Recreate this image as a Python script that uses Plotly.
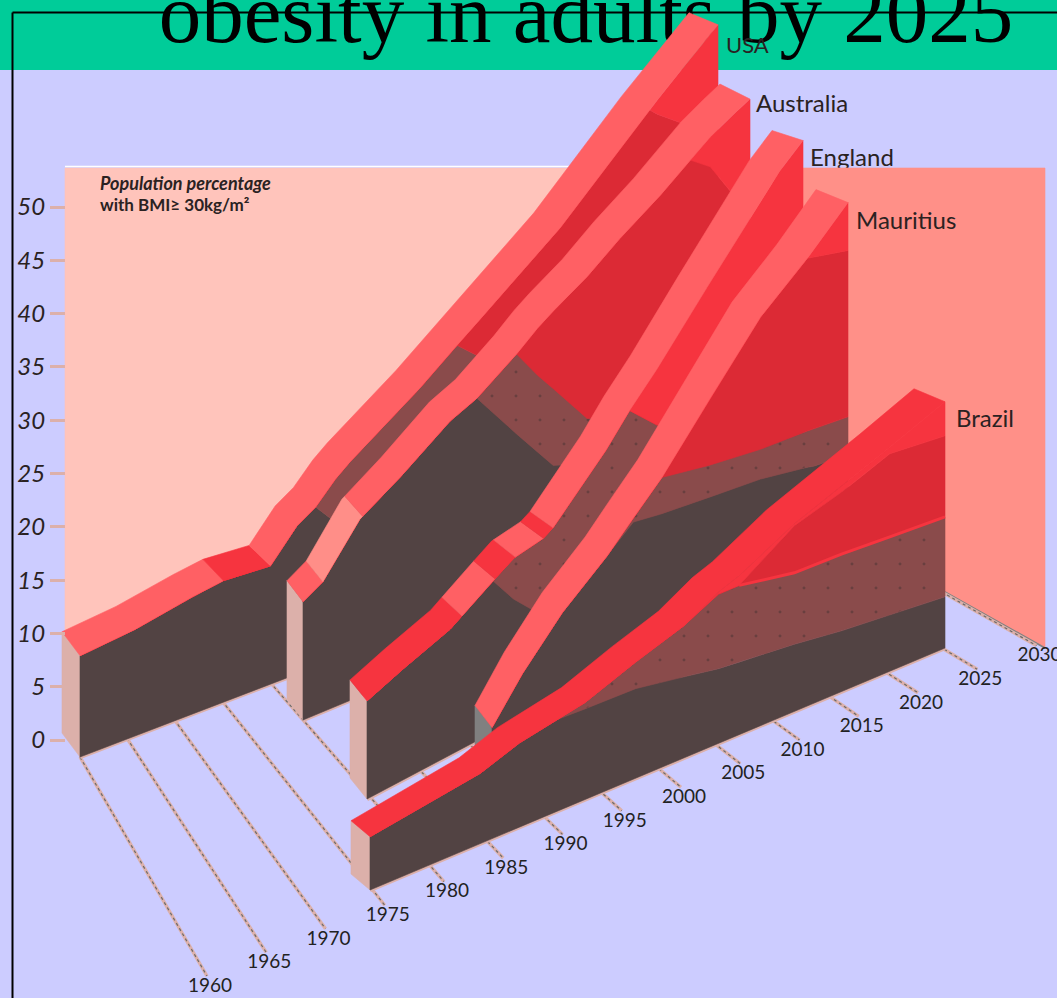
import numpy as np
import plotly.graph_objects as go

# ---------- data (percent of population, cumulative band tops) ----------
USA_YEARS  = [1960, 1965.6, 1971.5, 1974.6, 1979.4, 1982.1, 1984, 1986, 1987.5, 1994.6, 1998.4, 2000.6, 2008.9, 2018, 2018.8, 2021.4, 2025]
USA_DARK   = [9.5, 10.0, 11.0, 11.4, 11.1, 13.9, 15.0, 12.9, 12.5, 11.5, 11.2, 11.0, 10.5, 9.8, 9.7, 9.4, 9.0]
USA_MID    = [9.5, 10.0, 11.0, 11.4, 11.1, 13.9, 15.0, 16.9, 18.0, 22.4, 25.1, 23.3, 21.0, 19.0, 19.0, 18.0, 17.0]
USA_DEEP   = [9.5, 10.0, 11.0, 11.4, 11.1, 13.9, 15.0, 16.9, 18.0, 22.4, 25.1, 26.6, 32.4, 40.3, 39.6, 37.8, 34.0]
USA_TOTAL  = [9.5, 10.0, 11.0, 11.4, 11.1, 13.9, 15.0, 16.9, 18.0, 22.4, 25.1, 26.6, 32.4, 40.3, 40.9, 43.0, 45.8]
USA_BREAKS = [1960, 1974.6, 1979.4, 2025]

AUS_YEARS  = [1980, 1982, 1985.7, 1989.8, 1994.8, 1997.5, 2001.5, 2003.6, 2005.2, 2008.6, 2011.9, 2016, 2019, 2021, 2023.3, 2025]
AUS_DARK   = [11.1, 12.2, 16.6, 19.0, 22.3, 23.4, 18.5, 16.0, 14.1, 13.0, 12.0, 10.5, 9.5, 9.0, 8.5, 8.0]
AUS_MID    = [11.1, 12.2, 16.6, 19.0, 22.3, 23.4, 26.0, 23.2, 21.3, 17.2, 16.0, 15.0, 14.0, 13.3, 12.6, 12.0]
AUS_DEEP   = [11.1, 12.2, 16.6, 19.0, 22.3, 23.4, 26.0, 27.6, 28.6, 30.5, 32.8, 35.3, 37.4, 36.0, 32.5, 30.0]
AUS_TOTAL  = [11.1, 12.2, 16.6, 19.0, 22.3, 23.4, 26.0, 27.6, 28.6, 30.5, 32.8, 35.3, 37.4, 38.8, 40.0, 40.8]
AUS_BREAKS = [1980, 1982, 1986, 2025]

ENG_YEARS  = [1980, 1983.7, 1988.6, 1993, 1995.1, 1997.5, 1998.2, 1999.2, 2004.6, 2007.1, 2009.9, 2015.1, 2022.6, 2025]
ENG_DARK   = [9.2, 10.4, 11.8, 14.2, 11.5, 9.1, 8.9, 8.6, 7.5, 7.0, 6.6, 6.0, 5.2, 5.0]
ENG_MID    = [9.2, 10.4, 11.8, 14.2, 15.3, 15.6, 15.7, 16.2, 20.8, 23.4, 20.7, 17.5, 13.5, 12.0]
ENG_DEEP   = ENG_MID
ENG_TOTAL  = [9.2, 10.4, 11.8, 14.2, 15.3, 15.6, 15.7, 16.2, 20.8, 23.4, 25.9, 31.1, 38.4, 40.1]
ENG_BREAKS = [1980, 1989.8, 1993.2, 1995.3, 1998.2, 1999.2, 2025]

MUS_YEARS  = [1990, 1993, 1996.9, 2001.3, 2003.9, 2006.7, 2011.4, 2016.4, 2021, 2021.7, 2025]
MUS_DARK   = [3.8, 7.5, 11.4, 14.7, 16.7, 16.2, 15.6, 15.0, 14.0, 13.8, 13.4]
MUS_MID    = [3.8, 7.5, 11.4, 14.7, 17.1, 19.6, 18.6, 17.8, 17.4, 17.3, 16.9]
MUS_DEEP   = [3.8, 7.5, 11.4, 14.7, 17.1, 19.6, 24.8, 30.2, 33.6, 33.4, 32.5]
MUS_TOTAL  = [3.8, 7.5, 11.4, 14.7, 17.1, 19.6, 24.8, 30.2, 33.6, 34.2, 37.0]
MUS_BREAKS = [1990, 2025]

BRA_YEARS  = [1975, 1977.5, 1984.6, 1988, 1991.3, 1993.7, 1998.1, 2002.3, 2005.3, 2007.1, 2011.9, 2016, 2017.8, 2020.2, 2025]
BRA_DARK   = [5.0, 5.4, 6.6, 7.9, 8.6, 8.5, 8.4, 7.6, 7.0, 6.8, 6.3, 5.7, 5.5, 5.3, 4.8]
BRA_MID    = [5.0, 5.4, 6.6, 7.9, 8.6, 9.1, 10.9, 12.4, 14.0, 14.0, 13.0, 12.9, 12.8, 12.6, 12.3]
BRA_DEEP   = [5.0, 5.4, 6.6, 7.9, 8.6, 9.1, 10.9, 12.4, 14.0, 14.0, 17.4, 18.7, 19.4, 20.4, 19.9]
BRA_TOTAL  = [5.0, 5.4, 6.6, 7.9, 8.6, 9.1, 10.9, 12.4, 14.2, 14.9, 17.6, 19.3, 20.0, 21.0, 23.1]
BRA_BREAKS = [1975, 2025]

Y_TICKS = [0, 5, 10, 15, 20, 25, 30, 35, 40, 45, 50]
X_TICKS = [1960, 1965, 1970, 1975, 1980, 1985, 1990, 1995, 2000, 2005, 2010, 2015, 2020, 2025, 2030]
TITLE = "obesity in adults by 2025"
NOTE = ["Population percentage", "with BMI\u2265 30kg/m\u00b2"]

# ---------- styles / oblique projection ----------
BG, GREEN = "#ccccff", "#00cc99"
PANEL_L, PANEL_R = "#ffc4bb", "#ff9088"
DARK, MID, DEEP, BRIGHT, CORAL, LIGHT = "#524343", "#8a4b4b", "#dc2a35", "#f6343f", "#ff6064", "#ff8e88"
FACE, GREY, EDGE = "#dcb0aa", "#808080", "#dcb0aa"
FONT = "Lato"
W, H = 1057, 998
ZERO_PX, PX_PER_PCT = 740.0, 10.66

def py2pct(py):
    return (ZERO_PX - np.asarray(py, float)) / PX_PER_PCT

COUNTRIES = [
    dict(name="USA", years=USA_YEARS, levels=[USA_DARK, USA_MID, USA_DEEP, USA_TOTAL], breaks=USA_BREAKS,
         cols=[CORAL, BRIGHT, CORAL], base=((80, 757), (718, 513)), dv=((-18, -24), (-29, -12)), face=FACE,
         label=(726, 47), size=22, stipple=False),
    dict(name="Australia", years=AUS_YEARS, levels=[AUS_DARK, AUS_MID, AUS_DEEP, AUS_TOTAL], breaks=AUS_BREAKS,
         cols=[CORAL, LIGHT, CORAL], base=((303, 720), (750, 534)), dv=((-16, -21), (-30, -15)), face=FACE,
         label=(756, 106), size=24, stipple=True),
    dict(name="England", years=ENG_YEARS, levels=[ENG_DARK, ENG_MID, ENG_DEEP, ENG_TOTAL], breaks=ENG_BREAKS,
         cols=[BRIGHT, CORAL, BRIGHT, CORAL, BRIGHT, CORAL], base=((367, 799), (803, 568)), dv=((-17, -21), (-31, -10)),
         face=FACE, label=(810, 160), size=24, stipple=True),
    dict(name="Mauritius", years=MUS_YEARS, levels=[MUS_DARK, MUS_MID, MUS_DEEP, MUS_TOTAL], breaks=MUS_BREAKS,
         cols=[CORAL], base=((492, 768), (848, 597)), dv=((-17, -22), (-32, -13)), face=GREY,
         label=(856, 223), size=24, stipple=True),
    dict(name="Brazil", years=BRA_YEARS, levels=[BRA_DARK, BRA_MID, BRA_DEEP, BRA_TOTAL], breaks=BRA_BREAKS,
         cols=[BRIGHT], base=((370, 890), (945, 648)), dv=((-19, -16), (-31, -13)), face=FACE,
         label=(956, 421), size=24, stipple=True),
]

def poly(x, y, color, stipple=None):
    t = go.Scatter(x=list(x), y=list(y), mode="lines", fill="toself", fillcolor=color,
                   line=dict(color=color, width=0.6), hoverinfo="skip", showlegend=False)
    if stipple:
        t.fillpattern = dict(shape=".", bgcolor=color, fgcolor=stipple, size=24, solidity=0.012)
    return t

def text(x, y, s, size, color="#2a2222", pos="middle right", family=FONT, style="normal", weight="normal"):
    return go.Scatter(x=[x], y=[float(py2pct(y))], mode="text", text=[s], textposition=pos,
                      textfont=dict(family=family, size=size, color=color, style=style, weight=weight),
                      cliponaxis=False, hoverinfo="skip", showlegend=False)

fig = go.Figure()

# title sits beneath the chart
fig.add_trace(text(586, 21, TITLE, 85, color="#000000", pos="middle center", family="Liberation Serif"))

# England's label is partly hidden by the right wall
eng = COUNTRIES[2]
fig.add_trace(text(eng["label"][0], eng["label"][1], eng["name"], eng["size"]))

# wall panels
pl_top, pl_bot = float(py2pct(168)), float(py2pct(650))
fig.add_trace(poly([65, 775, 775, 65, 65], [pl_top, pl_top, pl_bot, pl_bot, pl_top], PANEL_L))
fig.add_trace(go.Scatter(x=[65, 775], y=[float(py2pct(166.5))] * 2, mode="lines",
                         line=dict(color="#ffffff", width=1.5), hoverinfo="skip", showlegend=False))
fig.add_trace(poly([775, 1045, 1045, 945, 775, 775],
                   py2pct([168, 168, 648, 592, 500, 168]), PANEL_R))
fig.add_trace(go.Scatter(x=[945, 1045], y=py2pct([592, 648]), mode="lines",
                         line=dict(color=GREY, width=1.6), hoverinfo="skip", showlegend=False))

# year lines on the floor
def back_floor(yr):
    return (80 + 9.35 * (yr - 1960) + 0.00716 * (yr - 1960) ** 2, 757 - 3.75 * (yr - 1960))
def label_pos(yr):
    return (210 + 11.85 * (yr - 1960), 987 - 4.72 * (yr - 1960))
lx, ly = [], []
for yr in X_TICKS:
    a = back_floor(yr)
    b = label_pos(yr)
    lx += [a[0], b[0] - 3, None]
    ly += [float(py2pct(a[1])), float(py2pct(b[1] - 11)), None]
fig.add_trace(go.Scatter(x=lx, y=ly, mode="lines", line=dict(color=EDGE, width=3.4),
                         connectgaps=False, hoverinfo="skip", showlegend=False))
fig.add_trace(go.Scatter(x=lx, y=ly, mode="lines", line=dict(color="#6a6a6a", width=1.2, dash="dot"),
                         connectgaps=False, hoverinfo="skip", showlegend=False))

# slabs, back to front
for c in COUNTRIES:
    yrs = np.array(c["years"], float)
    y0, y1 = yrs[0], yrs[-1]
    (bx0, by0), (bx1, by1) = c["base"]
    (dx0, dy0), (dx1, dy1) = c["dv"]

    def fx(y): return bx0 + (bx1 - bx0) * (np.asarray(y, float) - y0) / (y1 - y0)
    def fy(y): return py2pct(by0 + (by1 - by0) * (np.asarray(y, float) - y0) / (y1 - y0))
    def ddx(y): return dx0 + (dx1 - dx0) * (np.asarray(y, float) - y0) / (y1 - y0)
    def ddy(y): return -(dy0 + (dy1 - dy0) * (np.asarray(y, float) - y0) / (y1 - y0)) / PX_PER_PCT

    bottom = fy(yrs)
    X = fx(yrs)

    # floor edge
    fig.add_trace(go.Scatter(x=[X[0], X[-1]], y=[bottom[0], bottom[-1]], mode="lines",
                             line=dict(color=EDGE, width=4.5), hoverinfo="skip", showlegend=False))

    # end face
    top0 = bottom[0] + c["levels"][-1][0]
    fx0, fy0 = ddx(y0), ddy(y0)
    fig.add_trace(poly([X[0], X[0] + fx0, X[0] + fx0, X[0], X[0]],
                       [bottom[0], bottom[0] + fy0, top0 + fy0, top0, bottom[0]], c["face"]))

    # front wall bands
    lower = np.zeros_like(yrs)
    for lev, col in zip(c["levels"], [DARK, MID, DEEP, BRIGHT]):
        upper = np.array(lev, float)
        xs = np.r_[X, X[::-1], X[0]]
        ys = np.r_[bottom + upper, (bottom + lower)[::-1], bottom[0] + upper[0]]
        fig.add_trace(poly(xs, ys, col, stipple="#473434" if (col == MID and c["stipple"]) else None))
        lower = upper

    if c["name"] == "Brazil":
        m = yrs >= 2007
        fig.add_trace(go.Scatter(x=X[m], y=(bottom + np.array(BRA_MID))[m], mode="lines",
                                 line=dict(color=BRIGHT, width=3), hoverinfo="skip", showlegend=False))

    # top ribbon, one polygon for each colour segment
    total = np.array(c["levels"][-1], float)
    br = c["breaks"]
    for a, b, col in zip(br[:-1], br[1:], c["cols"]):
        inner = yrs[(yrs > a) & (yrs < b)]
        ss = np.r_[a, inner, b]
        front_x = fx(ss)
        front_y = fy(ss) + np.interp(ss, yrs, total)
        back_x = front_x + ddx(ss)
        back_y = front_y + ddy(ss)
        fig.add_trace(poly(np.r_[front_x, back_x[::-1], front_x[0]],
                           np.r_[front_y, back_y[::-1], front_y[0]], col))

# labels
for c in COUNTRIES:
    if c["name"] != "England":
        fig.add_trace(text(c["label"][0], c["label"][1], c["name"], c["size"]))
for yr in X_TICKS:
    p = label_pos(yr)
    fig.add_trace(text(p[0], p[1], str(yr), 19, pos="middle center", color="#222222"))
fig.add_trace(text(100, 185, NOTE[0], 18, style="italic", weight="bold"))
fig.add_trace(text(100, 207, NOTE[1], 17, weight="bold"))

band = 1 - 70.0 / H
fig.update_layout(
    width=W, height=H, margin=dict(l=0, r=0, t=0, b=0),
    paper_bgcolor=BG, plot_bgcolor="rgba(0,0,0,0)", showlegend=False,
    xaxis=dict(range=[0, W], visible=False, fixedrange=True, domain=[0, 1]),
    yaxis=dict(range=[float(py2pct(H)), float(py2pct(0))], fixedrange=True, anchor="free", position=65.0 / W,
               tickvals=Y_TICKS, ticktext=[str(v) for v in Y_TICKS], ticks="outside", ticklen=15, tickwidth=3,
               tickcolor=EDGE, showgrid=False, zeroline=False, showline=False,
               tickfont=dict(family=FONT, size=24, color="#2a2222", style="italic")),
    shapes=[
        dict(type="rect", xref="paper", yref="paper", x0=0, x1=1, y0=band, y1=1,
             fillcolor=GREEN, line=dict(width=0), layer="below"),
        dict(type="line", xref="paper", yref="paper", x0=12.5 / W, x1=1, y0=1 - 12.5 / H, y1=1 - 12.5 / H,
             line=dict(color="#000000", width=2), layer="below"),
        dict(type="line", xref="paper", yref="paper", x0=12.5 / W, x1=12.5 / W, y0=0, y1=1 - 12.5 / H,
             line=dict(color="#000000", width=2), layer="below"),
    ],
)
fig.write_html("out.html", config=dict(displayModeBar=False),
               post_script="document.body.style.margin='0';document.body.style.overflow='hidden';")
